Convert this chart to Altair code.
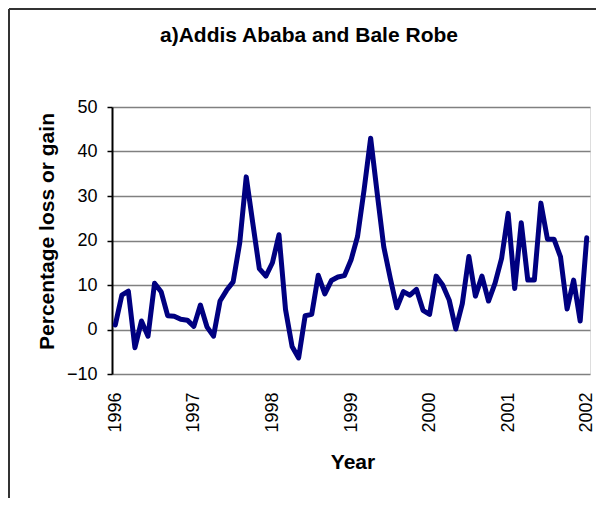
import altair as alt
import pandas as pd

# Monthly percentage loss or gain, Jan 1996 .. Jan 2002 (73 months)
values = [
    1.0, 7.7, 8.6, -4.1, 1.9, -1.5, 10.4, 8.5, 3.1, 3.0, 2.3, 2.1,
    0.7, 5.5, 0.6, -1.5, 6.4, 8.8, 10.7, 19.4, 34.3, 23.9, 13.7, 12.0,
    15.0, 21.3, 4.5, -3.8, -6.4, 3.1, 3.4, 12.2, 8.0, 11.0, 11.8, 12.1,
    15.6, 20.9, 31.4, 43.0, 30.6, 18.6, 11.5, 4.9, 8.5, 7.7, 9.0, 4.3,
    3.4, 12.0, 10.0, 6.6, 0.1, 5.8, 16.4, 7.5, 12.0, 6.4, 10.4, 16.0,
    26.1, 9.2, 24.0, 11.1, 11.1, 28.4, 20.3, 20.3, 16.3, 4.6, 11.1, 1.9, 20.6,
]
year_labels = [1996, 1997, 1998, 1999, 2000, 2001, 2002]
y_ticks = [-10, 0, 10, 20, 30, 40, 50]

months = list(range(len(values)))
df = pd.DataFrame({"month": months, "value": values})
tick_pos = [12 * k for k in range(len(year_labels))]

FONT = "Liberation Sans"

line = alt.Chart(df).mark_line(
    color="#000080", strokeWidth=5, strokeJoin="round", strokeCap="round"
).encode(
    x=alt.X(
        "month:Q",
        scale=alt.Scale(domain=[-0.5, len(values) - 0.5], nice=False, zero=False),
        axis=alt.Axis(
            values=tick_pos,
            labelExpr=f"{year_labels[0]} + datum.value / 12",
            labelAngle=-90,
            labelFontSize=18,
            labelPadding=18,
            labelColor="black",
            labelFont=FONT,
            labelOverlap=False,
            labelBound=False,
            ticks=False,
            tickSize=0,
            domain=False,
            grid=False,
            title="Year",
            titleFont=FONT,
            titleFontSize=21,
            titleFontWeight="bold",
            titleColor="black",
            titleX=240.5,
            titleY=94,
            titleBaseline="alphabetic",
            titleAlign="center",
        ),
    ),
    y=alt.Y(
        "value:Q",
        scale=alt.Scale(domain=[y_ticks[0], y_ticks[-1]], nice=False),
        axis=alt.Axis(
            values=y_ticks,
            labelFontSize=18,
            labelFont=FONT,
            labelColor="black",
            labelPadding=10,
            tickSize=5,
            tickColor="black",
            tickWidth=1.5,
            domainColor="black",
            domainWidth=2,
            grid=True,
            gridColor="#808080",
            gridWidth=1.5,
            title="Percentage loss or gain",
            titleFont=FONT,
            titleFontSize=21,
            titleFontWeight="bold",
            titleColor="black",
            titleAngle=270,
            titleX=-59,
            titleY=124,
            titleBaseline="alphabetic",
            titleAlign="center",
        ),
    ),
)

frame_left = alt.Chart().mark_rule(color="#333333", strokeWidth=2).encode(
    x=alt.value(-103), y=alt.value(-98), y2=alt.value(391)
)
frame_top = alt.Chart().mark_rule(color="#333333", strokeWidth=2).encode(
    x=alt.value(-103), x2=alt.value(484), y=alt.value(-98)
)

chart = alt.layer(frame_left, frame_top, line).properties(
    width=478,
    height=267,
    autosize=alt.AutoSizeParams(type="none"),
    padding={"left": 104, "top": 99, "right": 6, "bottom": 124},
    title=alt.TitleParams(
        text="a)Addis Ababa and Bale Robe",
        font=FONT,
        fontSize=21,
        fontWeight="bold",
        color="black",
        anchor="middle",
        frame="group",
        baseline="alphabetic",
        offset=-17,
        dy=38,
        dx=-42,
    ),
).configure_view(
    stroke="#808080", strokeWidth=2
).configure(background="white")

chart.save("out.html", embed_options={"renderer": "svg", "actions": False})
